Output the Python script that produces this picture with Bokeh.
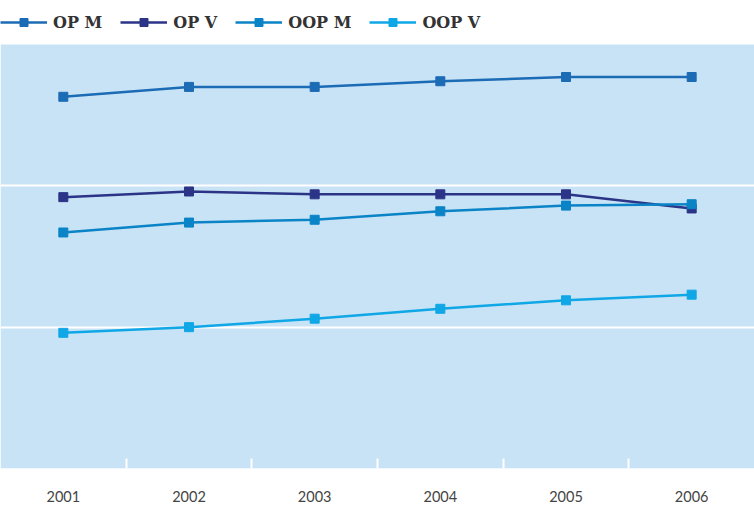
from bokeh.plotting import figure
from bokeh.models import Range1d, FixedTicker, Legend, LegendItem, BoxAnnotation
from bokeh.embed import file_html
from bokeh.resources import INLINE

years = [2001, 2002, 2003, 2004, 2005, 2006]
op_m = [263, 270, 270, 274, 277, 277]
op_v = [192, 196, 194, 194, 194, 184]
oop_m = [167, 174, 176, 182, 186, 187]
oop_v = [96, 100, 106, 113, 119, 123]
y_max = 300
grid_values = [100, 200]

series = [
    ("OP M", op_m, "#1c6bb5"),
    ("OP V", op_v, "#2b3487"),
    ("OOP M", oop_m, "#0a84c6"),
    ("OOP V", oop_v, "#0fa7e6"),
]

W, H = 754, 506
frame_h = 468          # frame spans top of page to bottom of blue area
blue_h = 424           # height of the blue plot area
y_top = y_max * frame_h / blue_h

p = figure(width=W, height=H, output_backend="svg", toolbar_location=None,
           x_range=Range1d(2000.5, 2006.5), y_range=Range1d(0, y_top),
           min_border_left=0, min_border_right=0, min_border_top=0,
           min_border_bottom=H - frame_h)
p.outline_line_color = None
p.background_fill_color = "white"
p.border_fill_color = "white"

p.add_layout(BoxAnnotation(bottom=0, top=y_max, fill_color="#c8e3f6", fill_alpha=1,
                           line_color=None, level="image"))

p.yaxis.visible = False
p.ygrid.ticker = FixedTicker(ticks=grid_values)
p.ygrid.grid_line_color = "white"
p.ygrid.grid_line_width = 2
p.xgrid.visible = False

ax = p.xaxis[0]
ax.ticker = FixedTicker(ticks=years, minor_ticks=[y + 0.5 for y in years[:-1]])
ax.axis_line_color = None
ax.major_tick_line_color = None
ax.minor_tick_line_color = "white"
ax.minor_tick_line_width = 2
ax.minor_tick_in = 10
ax.minor_tick_out = 0
ax.major_label_standoff = 16
ax.major_label_text_font = "Lato"
ax.major_label_text_font_size = "14.5px"
ax.major_label_text_color = "#444444"

items = []
for name, vals, col in series:
    r1 = p.line(years, vals, line_color=col, line_width=2.5)
    r2 = p.scatter(years, vals, marker="square", size=9, fill_color=col, line_color=col)
    items.append(LegendItem(label=name, renderers=[r1, r2]))

legend = Legend(items=items, orientation="horizontal", location=(0, frame_h - 32),
                border_line_color=None, background_fill_alpha=0,
                glyph_width=47, glyph_height=20, label_height=20,
                label_standoff=6, spacing=18, padding=0, margin=0,
                label_text_font="DejaVu Serif", label_text_font_style="bold",
                label_text_font_size="16px", label_text_color="#333333")
p.add_layout(legend)

open("out.html", "w").write(file_html(p, INLINE))
